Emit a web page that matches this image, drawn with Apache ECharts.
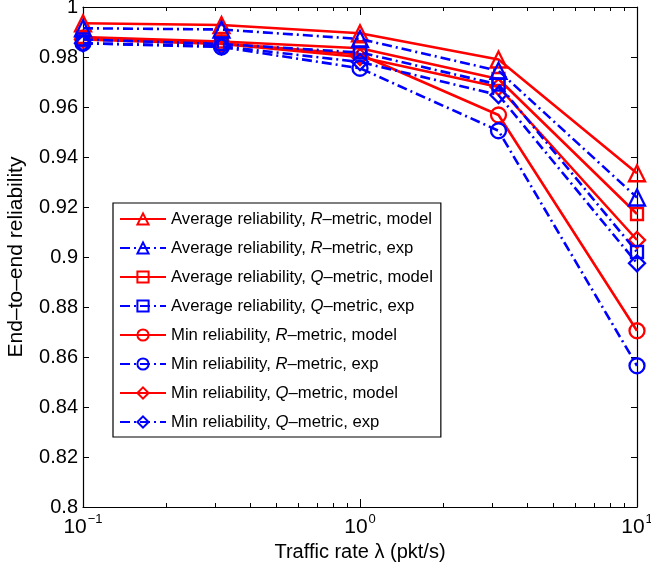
<!DOCTYPE html>
<html>
<head>
<meta charset="utf-8">
<script src="https://cdn.jsdelivr.net/npm/echarts@6/dist/echarts.min.js"></script>
<style>html,body{margin:0;padding:0;background:#fff}#c{width:651px;height:562px}</style>
</head>
<body>
<div id="c"></div>
<script>
var xValues = [0.1, 0.3162, 1, 3.162, 10];
var avgRModel = [0.9935, 0.9928, 0.9895, 0.9790, 0.9335];
var avgRExp   = [0.9915, 0.9910, 0.9872, 0.9745, 0.9238];
var avgQModel = [0.9880, 0.9862, 0.9835, 0.9712, 0.9172];
var avgQExp   = [0.9870, 0.9852, 0.9818, 0.9690, 0.9020];
var minRModel = [0.9875, 0.9855, 0.9810, 0.9568, 0.8705];
var minRExp   = [0.9855, 0.9840, 0.9755, 0.9505, 0.8565];
var minQModel = [0.9870, 0.9852, 0.9800, 0.9680, 0.9068];
var minQExp   = [0.9855, 0.9843, 0.9780, 0.9648, 0.8975];
var seriesNames = [
  'Average reliability, R\u2013metric, model',
  'Average reliability, R\u2013metric, exp',
  'Average reliability, Q\u2013metric, model',
  'Average reliability, Q\u2013metric, exp',
  'Min reliability, R\u2013metric, model',
  'Min reliability, R\u2013metric, exp',
  'Min reliability, Q\u2013metric, model',
  'Min reliability, Q\u2013metric, exp'
];
var seriesValues = [avgRModel, avgRExp, avgQModel, avgQExp, minRModel, minRExp, minQModel, minQExp];
var symbols = ['triangle','triangle','rect','rect','circle','circle','diamond','diamond'];
var symbolSizes = [16,16,12,12,15,15,16,16];
var xMinorTicks = [0.1,0.2,0.3,0.4,0.5,0.6,0.7,0.8,0.9,1,2,3,4,5,6,7,8,9,10];
var yTickInterval = 0.02;

var RED = '#ff0000', BLUE = '#0000ff';
var FONT = 'Liberation Sans, Arial, Helvetica, sans-serif';

var series = seriesNames.map(function (name, i) {
  var isModel = i % 2 === 0;
  var col = isModel ? RED : BLUE;
  return {
    name: name,
    type: 'line',
    xAxisIndex: 0,
    yAxisIndex: 0,
    data: xValues.map(function (x, j) { return [x, seriesValues[i][j]]; }),
    symbol: symbols[i],
    symbolSize: symbolSizes[i],
    showAllSymbol: true,
    z: isModel ? 2 : 3,
    lineStyle: { color: col, width: 2.6, type: isModel ? 'solid' : [10, 4, 2, 4] },
    itemStyle: { color: 'rgba(255,255,255,0)', borderColor: col, borderWidth: 2.3 },
    emphasis: { disabled: true },
    animation: false
  };
});

function supLabel(v) {
  var e = Math.round(Math.log10(v));
  var s = e < 0 ? '\u2212' + (-e) : String(e);
  return '{b|10}{s|' + s + '}';
}
var supRich = {
  b: { fontSize: 21, fontFamily: FONT, color: '#000', padding: [8, 0, 0, 0] },
  s: { fontSize: 13, fontFamily: FONT, color: '#000', padding: [0, 0, 8, 1] }
};

function xAx(pos, minor, showLabel) {
  return {
    type: 'log', logBase: 10, min: 0.1, max: 10, position: pos,
    axisLine: { show: !minor, lineStyle: { color: '#000', width: 1.2 } },
    axisTick: minor ? { show: true, inside: true, length: 4, customValues: xMinorTicks, lineStyle: { color: '#000' } }
                    : { show: true, inside: true, length: 8, lineStyle: { color: '#000' } },
    axisLabel: showLabel ? { show: true, formatter: supLabel, rich: supRich, margin: 2 } : { show: false },
    splitLine: { show: false },
    minorTick: { show: false }
  };
}

var xAxes = [xAx('bottom', false, true), xAx('bottom', true, false), xAx('top', false, false), xAx('top', true, false)];
xAxes[0].name = 'Traffic rate \u03bb (pkt/s)';
xAxes[0].nameLocation = 'middle';
xAxes[0].nameGap = 31;
xAxes[0].nameTextStyle = { fontSize: 20, fontFamily: FONT, color: '#000' };

var yAxes = [
  {
    type: 'value', min: 0.8, max: 1, interval: yTickInterval, position: 'left',
    axisLine: { show: true, lineStyle: { color: '#000', width: 1.2 } },
    axisTick: { show: true, inside: true, length: 6, lineStyle: { color: '#000' } },
    axisLabel: { fontSize: 20, fontFamily: FONT, color: '#000', margin: 5 },
    splitLine: { show: false },
    name: 'End\u2013to\u2013end reliability', nameLocation: 'middle', nameGap: 56,
    nameTextStyle: { fontSize: 21, fontFamily: FONT, color: '#000' }
  },
  {
    type: 'value', min: 0.8, max: 1, interval: yTickInterval, position: 'right',
    axisLine: { show: true, lineStyle: { color: '#000', width: 1.2 } },
    axisTick: { show: true, inside: true, length: 6, lineStyle: { color: '#000' } },
    axisLabel: { show: false },
    splitLine: { show: false }
  }
];

var chart = echarts.init(document.getElementById('c'), null, { renderer: 'canvas' });
chart.setOption({
  animation: false,
  backgroundColor: '#fff',
  grid: { left: 83, right: 14, top: 7, bottom: 55, containLabel: false, outerBoundsMode: 'none' },
  xAxis: xAxes,
  yAxis: yAxes,
  legend: {
    orient: 'vertical', left: 113, top: 203,
    backgroundColor: '#fff', borderColor: '#000', borderWidth: 1.2, borderRadius: 0,
    padding: [7, 8, 6, 6],
    itemWidth: 46, itemHeight: 14, itemGap: 11,
    data: seriesNames,
    formatter: function (name) {
      var parts = name.split(', ');
      var m = parts[1];
      return '{n|' + parts[0] + ', }{i|' + m.charAt(0) + '}{n|' + m.slice(1) + ', ' + parts[2] + '}';
    },
    textStyle: {
      fontSize: 16.7, fontFamily: FONT, color: '#000', lineHeight: 18,
      rich: {
        n: { fontSize: 16.7, fontFamily: FONT, color: '#000', lineHeight: 18 },
        i: { fontSize: 16.7, fontFamily: FONT, color: '#000', fontStyle: 'italic', lineHeight: 18 }
      }
    }
  },
  series: series
});
</script>
</body>
</html>
